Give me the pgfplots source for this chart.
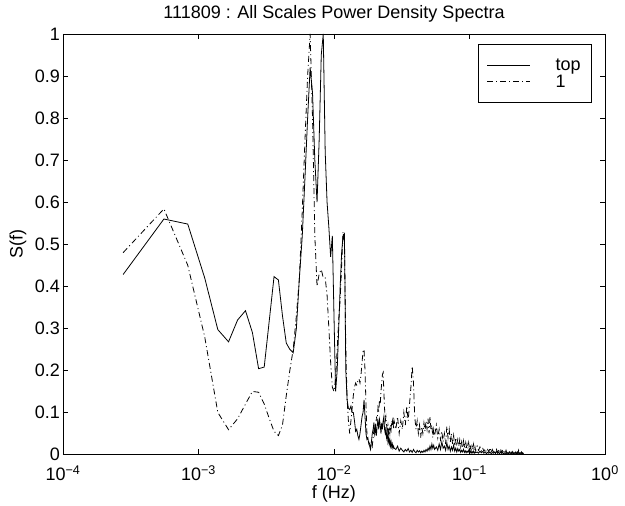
\documentclass[border=0pt]{standalone}
\usepackage{fontspec}
\setmainfont{Liberation Sans}
\usepackage{pgfplots}
\usepackage{pgfplotstable}
\pgfplotsset{compat=1.18}

% k = frequency index, f = k/3600 Hz
\pgfplotstableread{
k S
1 0.428
2 0.560
3 0.548
4 0.42
5 0.297
6 0.268
7 0.320
8 0.342
9 0.290
10 0.204
11 0.208
12 0.32
13 0.423
14 0.415
15 0.33
16 0.265
17 0.250
18 0.242
19 0.30
20 0.42
21 0.52
22 0.66
23 0.80
24 0.92
25 0.86
26 0.70
27 0.60
28 0.75
29 0.95
30 1.00
31 0.72
32 0.60
33 0.54
34 0.47
35 0.52
36 0.33
37 0.15
38 0.20
39 0.30
40 0.40
41 0.48
42 0.52
43 0.525
44 0.20
45 0.13
46 0.11
47 0.107
48 0.115
49 0.10
50 0.10
51 0.08
52 0.055
53 0.06
54 0.045
55 0.036
56 0.05
57 0.07
58 0.09
59 0.10
60 0.13
61 0.09
62 0.05
63 0.036
64 0.04
65 0.025
66 0.02
67 0.012
68 0.03
69 0.05
70 0.06
71 0.076
72 0.05
73 0.065
74 0.045
75 0.07
76 0.08
77 0.06
78 0.083
79 0.07
80 0.05
81 0.075
82 0.06
83 0.08
84 0.09
85 0.06
86 0.05
87 0.065
88 0.04
89 0.05
90 0.03
91 0.04
92 0.025
93 0.035
94 0.02
95 0.03
96 0.018
97 0.025
98 0.015
99 0.02
100 0.015
103 0.012
106 0.02
109 0.008
112 0.015
115 0.01
118 0.006
121 0.012
124 0.008
127 0.014
130 0.006
133 0.01
136 0.005
139 0.012
142 0.007
145 0.004
148 0.01
151 0.006
154 0.009
157 0.004
160 0.008
163 0.005
166 0.01
169 0.006
172 0.012
175 0.008
178 0.015
181 0.01
184 0.02
187 0.012
190 0.025
193 0.015
196 0.022
199 0.012
205 0.018
210 0.01
215 0.025
220 0.012
225 0.03
230 0.015
235 0.02
240 0.01
245 0.028
250 0.012
255 0.02
260 0.008
265 0.018
270 0.01
275 0.022
280 0.008
285 0.015
290 0.006
295 0.014
300 0.008
305 0.012
310 0.005
315 0.01
320 0.006
325 0.012
330 0.005
335 0.009
340 0.004
345 0.008
350 0.005
355 0.01
360 0.004
365 0.008
370 0.003
375 0.007
380 0.004
385 0.008
390 0.003
395 0.006
400 0.004
410 0.006
420 0.003
430 0.008
440 0.004
450 0.007
460 0.003
470 0.006
480 0.002
490 0.005
500 0.003
510 0.006
520 0.002
530 0.005
540 0.003
550 0.006
560 0.002
570 0.008
580 0.003
590 0.005
600 0.002
610 0.006
620 0.003
630 0.005
640 0.002
650 0.004
660 0.002
670 0.005
680 0.002
690 0.004
700 0.002
710 0.006
720 0.002
730 0.004
740 0.002
750 0.005
760 0.002
770 0.004
780 0.002
790 0.006
800 0.002
810 0.004
820 0.002
830 0.005
840 0.002
850 0.004
860 0.002
870 0.006
880 0.002
890 0.004
900 0.002
}\toptable

\pgfplotstableread{
k S
1 0.480
2 0.584
3 0.450
4 0.28
5 0.10
6 0.059
7 0.085
8 0.12
9 0.15
10 0.148
11 0.12
12 0.085
13 0.055
14 0.045
15 0.07
16 0.14
17 0.20
18 0.25
19 0.33
20 0.42
21 0.58
22 0.75
23 0.90
24 1.00
25 0.80
26 0.52
27 0.40
28 0.43
29 0.44
30 0.42
31 0.42
32 0.38
33 0.30
34 0.22
35 0.16
36 0.15
37 0.18
38 0.25
39 0.32
40 0.37
41 0.45
42 0.53
43 0.50
44 0.25
45 0.13
46 0.08
47 0.05
48 0.08
49 0.11
50 0.14
51 0.16
52 0.17
53 0.165
54 0.175
55 0.18
56 0.17
57 0.19
58 0.22
59 0.245
60 0.25
61 0.20
62 0.12
63 0.05
64 0.035
65 0.03
66 0.025
67 0.02
68 0.03
69 0.02
70 0.04
71 0.06
72 0.05
73 0.07
74 0.09
75 0.08
76 0.11
77 0.10
78 0.13
79 0.12
80 0.15
81 0.17
82 0.19
83 0.195
84 0.15
85 0.11
86 0.08
87 0.09
88 0.07
89 0.06
90 0.07
91 0.05
92 0.06
93 0.05
94 0.07
95 0.06
96 0.08
97 0.07
98 0.09
99 0.06
100 0.08
103 0.06
106 0.09
109 0.05
112 0.08
115 0.06
118 0.10
121 0.07
124 0.115
127 0.08
130 0.12
133 0.16
136 0.21
139 0.17
142 0.09
145 0.06
148 0.08
151 0.05
154 0.07
157 0.04
160 0.065
163 0.05
166 0.075
169 0.055
172 0.08
175 0.06
178 0.085
181 0.05
184 0.09
187 0.06
190 0.07
193 0.04
196 0.06
199 0.045
205 0.07
210 0.04
215 0.06
220 0.035
225 0.055
230 0.03
235 0.05
240 0.025
245 0.067
250 0.04
255 0.06
260 0.03
265 0.05
270 0.025
275 0.045
280 0.02
285 0.04
290 0.025
295 0.036
300 0.02
305 0.035
310 0.018
315 0.03
320 0.015
325 0.032
330 0.016
335 0.028
340 0.012
345 0.025
350 0.014
355 0.028
360 0.012
365 0.022
370 0.01
375 0.02
380 0.012
385 0.024
390 0.01
395 0.018
400 0.009
410 0.02
420 0.01
430 0.018
440 0.008
450 0.016
460 0.007
470 0.014
480 0.006
490 0.012
500 0.006
510 0.016
520 0.005
530 0.012
540 0.006
550 0.01
560 0.004
570 0.012
580 0.005
590 0.009
600 0.004
610 0.014
620 0.005
630 0.009
640 0.003
650 0.008
660 0.004
670 0.01
680 0.003
690 0.008
700 0.004
710 0.007
720 0.003
730 0.006
740 0.003
750 0.007
760 0.002
770 0.006
780 0.003
790 0.005
800 0.002
810 0.006
820 0.003
830 0.01
840 0.002
850 0.005
860 0.002
870 0.004
880 0.002
890 0.003
900 0.002
}\onetable

\begin{document}
\begin{tikzpicture}
\path[use as bounding box] (-63pt,-51.5pt) rectangle (562pt,454.5pt);
\begin{axis}[
  at={(0pt,0pt)}, anchor=south west,
  scale only axis, width=542pt, height=420.5pt,
  xmode=log, xmin=1e-4, xmax=1, ymin=0, ymax=1,
  xtick={1e-4,1e-3,1e-2,1e-1,1},
  xticklabels={10\textsuperscript{−4},10\textsuperscript{−3},10\textsuperscript{−2},10\textsuperscript{−1},10\textsuperscript{0}},
  ytick={0,0.1,0.2,0.3,0.4,0.5,0.6,0.7,0.8,0.9,1},
  yticklabels={0,0.1,0.2,0.3,0.4,0.5,0.6,0.7,0.8,0.9,1},
  minor tick num=0, xminorticks=false,
  tick align=inside, major tick length=5pt,
  tick style={black, line width=0.5pt},
  axis line style={black, line width=0.6pt},
  ticklabel style={font=\fontsize{18}{20}\selectfont},
  xticklabel style={anchor=base, yshift=-26pt},
  yticklabel style={anchor=east, inner xsep=0pt, xshift=-3pt},
  title={111809 : All Scales Power Density Spectra},
  title style={at={(axis description cs:0.5,1.022)}, anchor=base, font=\fontsize{18}{20}\selectfont},
  xlabel={f (Hz)},
  xlabel style={at={(axis description cs:0.5,-0.1058)}, anchor=base, font=\fontsize{18}{20}\selectfont},
  ylabel={S(f)},
  ylabel style={at={(axis description cs:-0.083,0.5)}, anchor=center, font=\fontsize{18}{20}\selectfont},
  legend style={at={(0.976,0.976)}, anchor=north east, draw=black, line width=0.5pt, fill=white,
    font=\fontsize{18}{20}\selectfont, inner xsep=9pt, inner ysep=12.4pt, row sep=0pt, column sep=23pt,
    nodes={inner xsep=2pt, inner ysep=0pt, text height=14pt, text depth=2.6pt}},
  legend cell align=left,
  legend image code/.code={\draw[#1] (0pt,0pt) -- (43pt,0pt);},
]
\addplot[black, line width=0.8pt] table[x expr=\thisrow{k}/3600, y=S] {\toptable};
\addplot[black, line width=0.8pt, dash pattern=on 6pt off 3pt on 1pt off 3pt] table[x expr=\thisrow{k}/3600, y=S] {\onetable};
\legend{top, 1}
\end{axis}
\end{tikzpicture}
\end{document}
